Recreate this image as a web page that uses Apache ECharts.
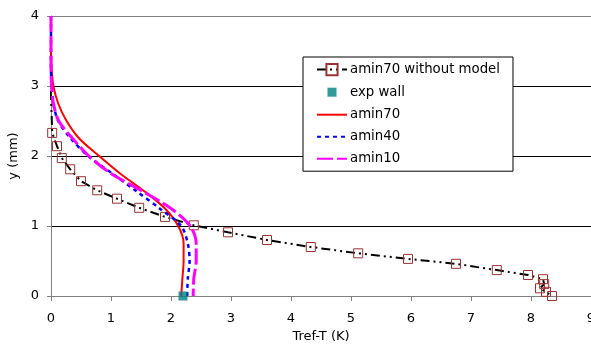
<!DOCTYPE html>
<html>
<head>
<meta charset="utf-8">
<script src="https://cdn.jsdelivr.net/npm/echarts@6/dist/echarts.min.js"></script>
<style>
html,body{margin:0;padding:0;background:#fff;}
#main{width:591px;height:345px;}
</style>
</head>
<body>
<div id="main"></div>
<script>
// ---- data ----
var xTicks = [0,1,2,3,4,5,6,7,8,9];
var yTicks = [0,1,2,3,4];
var seriesNames = ['amin70 without model','exp wall','amin70','amin40','amin10'];

// amin70 without model: first 3 points are unmarked tail of the curve
var noModelUnmarked = 3;
var noModelT = [0.00,-0.01,0.01, 0.02,0.10,0.18,0.32,0.50,0.77,1.10,1.47,1.90,2.38,2.95,3.60,4.33,5.12,5.95,6.75,7.43,7.95,8.20,8.22,8.15,8.25,8.35];
var noModelY = [4.00,3.00,2.60, 2.33,2.14,1.97,1.81,1.64,1.51,1.39,1.26,1.13,1.01,0.91,0.80,0.70,0.61,0.53,0.46,0.37,0.30,0.24,0.17,0.11,0.06,0.00];

var expWallT = [2.20];
var expWallY = [0.00];

// profiles read at y = 4, 3.5, 3.25, 3.0, 2.75 ... 0
var profileY = [4.00,3.50,3.25,3.00,2.75,2.50,2.25,2.00,1.75,1.50,1.25,1.00,0.75,0.50,0.25,0.00];
var amin70T  = [0.00,0.00,0.01,0.04,0.12,0.26,0.47,0.80,1.15,1.55,1.90,2.12,2.21,2.21,2.19,2.17];
var amin40T  = [0.00,0.00,0.00,0.01,0.04,0.12,0.33,0.62,1.02,1.42,1.81,2.17,2.28,2.31,2.28,2.27];
var amin10T  = [0.00,0.00,0.00,0.01,0.04,0.13,0.36,0.63,1.00,1.52,2.00,2.32,2.42,2.42,2.38,2.37];

function pairs(xs, ys){ return xs.map(function(x,i){ return [x, ys[i]]; }); }

var noModelData = noModelT.map(function(x,i){
  var item = {value:[x, noModelY[i]]};
  if (i < noModelUnmarked) item.symbol = 'none';
  return item;
});

var font = '"DejaVu Sans", Verdana, sans-serif';
var chart = echarts.init(document.getElementById('main'), null, {renderer:'canvas'});
chart.setOption({
  animation:false,
  backgroundColor:'#fff',
  grid:{left:51, top:16, right:0, bottom:49, containLabel:false, outerBoundsMode:'none'},
  legend:{
    orient:'vertical',
    left:303, top:57,
    data:[
      {name:seriesNames[0]},
      {name:seriesNames[1], icon:'path://M0 0M14 14M2.5 2.5H11.5V11.5H2.5Z'},
      {name:seriesNames[2], itemStyle:{opacity:0}},
      {name:seriesNames[3], itemStyle:{opacity:0}},
      {name:seriesNames[4], itemStyle:{opacity:0}}
    ],
    symbolKeepAspect:true,
    backgroundColor:'#fff',
    borderColor:'#000', borderWidth:1,
    padding:[6,13,6,13],
    itemWidth:30, itemHeight:14, itemGap:9,
    textStyle:{fontFamily:font, fontSize:13.3, color:'#000', padding:[0,0,0,-2]}
  },
  xAxis:{
    type:'value', min:0, max:9, interval:1,
    name:'Tref-T (K)', nameLocation:'middle', nameGap:28,
    nameTextStyle:{fontFamily:font, fontSize:13, color:'#000'},
    axisLine:{show:true, onZero:false, lineStyle:{color:'#808080', width:1}},
    axisTick:{show:true, inside:false, length:5, lineStyle:{color:'#808080'}},
    axisLabel:{fontFamily:font, fontSize:13, color:'#000', margin:16,
      formatter:function(v){ return xTicks.indexOf(v)>=0 ? String(v) : ''; }},
    splitLine:{show:false}
  },
  yAxis:{
    type:'value', min:0, max:4, interval:1,
    name:'y (mm)', nameLocation:'middle', nameGap:26, nameRotate:90,
    nameTextStyle:{fontFamily:font, fontSize:13, color:'#000'},
    axisLine:{show:true, onZero:false, lineStyle:{color:'#808080', width:1}},
    axisTick:{show:true, inside:false, length:4, lineStyle:{color:'#808080'}},
    axisLabel:{fontFamily:font, fontSize:13, color:'#000', margin:12,
      formatter:function(v){ return yTicks.indexOf(v)>=0 ? String(v) : ''; }},
    splitLine:{show:true, lineStyle:{color:['#000','#000','#000','#000','#808080'], width:1}}
  },
  series:[
    {
      name:seriesNames[0], type:'line', data:noModelData,
      symbol:'rect', symbolSize:9, showSymbol:true,
      itemStyle:{color:'rgba(255,255,255,0)', borderColor:'#993333', borderWidth:1},
      lineStyle:{color:'#000', width:2, type:[9,4,2,4,2,4]},
      z:3
    },
    {
      name:seriesNames[1], type:'scatter', data:pairs(expWallT, expWallY),
      symbol:'rect', symbolSize:9,
      itemStyle:{color:'#008080'}, z:5
    },
    {
      name:seriesNames[2], type:'line', data:pairs(amin70T, profileY),
      showSymbol:false, symbol:'none', smooth:0.3,
      lineStyle:{color:'#ff0000', width:2, type:'solid'},
      itemStyle:{color:'#ff0000'}, z:4
    },
    {
      name:seriesNames[3], type:'line', data:pairs(amin40T, profileY),
      showSymbol:false, symbol:'none', smooth:0.3,
      lineStyle:{color:'#0000ff', width:2.5, type:[4,4]},
      itemStyle:{color:'#0000ff'}, z:4
    },
    {
      name:seriesNames[4], type:'line', data:pairs(amin10T, profileY),
      showSymbol:false, symbol:'none', smooth:0.3,
      lineStyle:{color:'#ff00ff', width:3, type:[16,4]},
      itemStyle:{color:'#ff00ff'}, z:4
    }
  ]
});
</script>
</body>
</html>
